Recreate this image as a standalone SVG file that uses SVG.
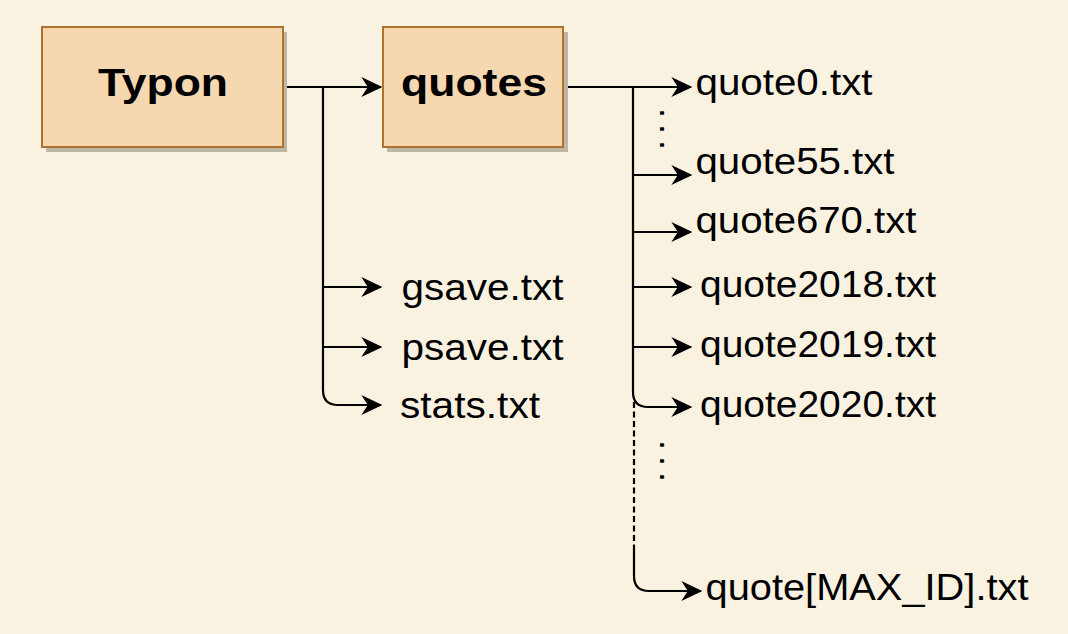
<svg xmlns="http://www.w3.org/2000/svg" width="1068" height="634" viewBox="0 0 1068 634">
<defs>
<marker id="arr" markerUnits="userSpaceOnUse" markerWidth="30" markerHeight="24" viewBox="-24 -12 30 24" refX="0" refY="0" orient="auto" overflow="visible">
<path d="M0,0 L-18,-8.5 L-12.5,0 L-18,8.5 Z" fill="#000" stroke="#000" stroke-width="1.2" stroke-linejoin="miter"/>
</marker>
</defs>
<style>
.bg{fill:#FAF2E1}
.box{fill:#F5D7B0;stroke:#B0712E;stroke-width:2}
.shadow{fill:#BDB7A6}
.lbl{font-family:"Liberation Sans",Arial,sans-serif;font-size:36px;fill:#000}
.bold{font-family:"Liberation Sans",Arial,sans-serif;font-size:39px;font-weight:bold;fill:#000}
.ln{fill:none;stroke:#000;stroke-width:2.2}
.arr{marker-end:url(#arr)}
.dash{stroke-dasharray:6 3.5}
</style>
<rect class="bg" x="0" y="0" width="1068" height="634"/>
<g id="connectors">
<path class="ln arr" d="M283,87 H381"/>
<path class="ln arr" d="M323,87 V390 Q323,405 338,405 H381"/>
<path class="ln arr" d="M323,287 H381"/>
<path class="ln arr" d="M323,347 H381"/>
<path class="ln arr" d="M563,87 H691"/>
<path class="ln arr" d="M633,87 V392 Q633,407 648,407 H691"/>
<path class="ln arr" d="M633,175 H691"/>
<path class="ln arr" d="M633,232 H691"/>
<path class="ln arr" d="M633,287 H691"/>
<path class="ln arr" d="M633,347 H691"/>
<path class="ln dash" d="M634,402 V545"/>
<path class="ln arr" d="M634,545 V576 Q634,591 649,591 H701"/>
</g>
<g id="node-typon">
<rect class="shadow" x="46" y="32" width="241" height="120"/>
<rect class="box" x="42" y="27" width="241" height="120"/>
<text class="bold" x="98" y="96" textLength="130" lengthAdjust="spacingAndGlyphs">Typon</text>
</g>
<g id="node-quotes">
<rect class="shadow" x="387" y="32" width="181" height="120"/>
<rect class="box" x="383" y="27" width="180" height="120"/>
<text class="bold" x="401" y="96" textLength="146" lengthAdjust="spacingAndGlyphs">quotes</text>
</g>
<g id="node-gsave"><text class="lbl" x="401.5" y="300" textLength="162" lengthAdjust="spacingAndGlyphs">gsave.txt</text></g>
<g id="node-psave"><text class="lbl" x="401.5" y="360" textLength="162" lengthAdjust="spacingAndGlyphs">psave.txt</text></g>
<g id="node-stats"><text class="lbl" x="400" y="418" textLength="140" lengthAdjust="spacingAndGlyphs">stats.txt</text></g>
<g id="node-quote0"><text class="lbl" x="695.5" y="95" textLength="177" lengthAdjust="spacingAndGlyphs">quote0.txt</text></g>
<g id="dots-1"><text class="lbl" transform="translate(659.8,108) rotate(90)" x="0" y="0" letter-spacing="6">...</text></g>
<g id="node-quote55"><text class="lbl" x="695.5" y="174" textLength="199" lengthAdjust="spacingAndGlyphs">quote55.txt</text></g>
<g id="node-quote670"><text class="lbl" x="695.5" y="233" textLength="221" lengthAdjust="spacingAndGlyphs">quote670.txt</text></g>
<g id="node-quote2018"><text class="lbl" x="700" y="297" textLength="236" lengthAdjust="spacingAndGlyphs">quote2018.txt</text></g>
<g id="node-quote2019"><text class="lbl" x="700" y="357" textLength="236" lengthAdjust="spacingAndGlyphs">quote2019.txt</text></g>
<g id="node-quote2020"><text class="lbl" x="700" y="417" textLength="236" lengthAdjust="spacingAndGlyphs">quote2020.txt</text></g>
<g id="dots-2"><text class="lbl" transform="translate(659.8,440) rotate(90)" x="0" y="0" letter-spacing="6">...</text></g>
<g id="node-quotemax"><text class="lbl" x="705.5" y="600" textLength="323" lengthAdjust="spacingAndGlyphs">quote[MAX_ID].txt</text></g>
</svg>
